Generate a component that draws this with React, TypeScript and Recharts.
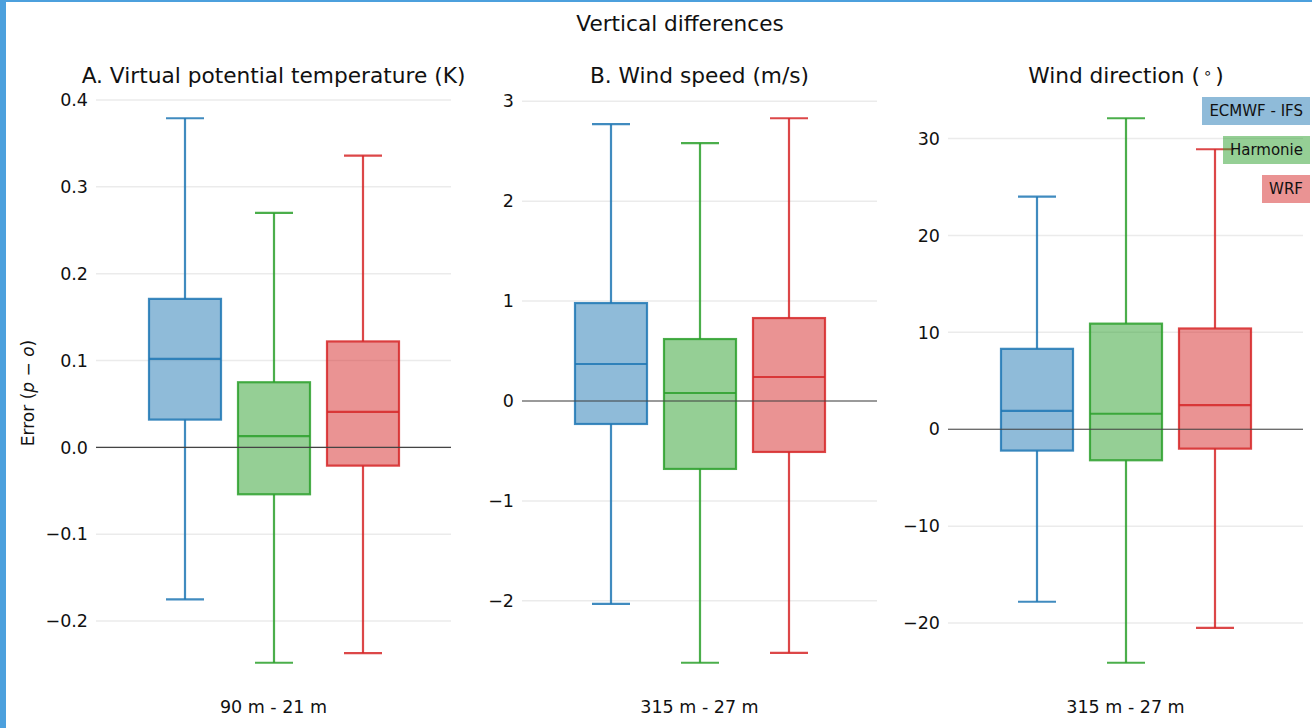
import React from "react";
import {
  BarChart,
  Bar,
  XAxis,
  YAxis,
  CartesianGrid,
  ReferenceLine,
} from "recharts";

const models = ["ECMWF - IFS", "Harmonie", "WRF"];
const modelColors = ["#1f77b4", "#2ca02c", "#d62728"];
const legendFills = [
  "rgba(31,119,180,0.5)",
  "rgba(44,160,44,0.5)",
  "rgba(214,39,40,0.5)",
];

// A. virtual potential temperature (K), 90 m - 21 m
const tempLow = [-0.175, -0.248, -0.237];
const tempQ1 = [0.032, -0.054, -0.021];
const tempMedian = [0.102, 0.013, 0.041];
const tempQ3 = [0.171, 0.075, 0.122];
const tempHigh = [0.379, 0.27, 0.336];
const tempTicks = [-0.2, -0.1, 0, 0.1, 0.2, 0.3, 0.4];

// B. wind speed (m/s), 315 m - 27 m
const speedLow = [-2.03, -2.62, -2.52];
const speedQ1 = [-0.23, -0.68, -0.51];
const speedMedian = [0.37, 0.08, 0.24];
const speedQ3 = [0.98, 0.62, 0.83];
const speedHigh = [2.77, 2.58, 2.83];
const speedTicks = [-2, -1, 0, 1, 2, 3];

// wind direction (deg), 315 m - 27 m
const dirLow = [-17.8, -24.1, -20.5];
const dirQ1 = [-2.2, -3.2, -2.0];
const dirMedian = [1.9, 1.6, 2.5];
const dirQ3 = [8.3, 10.9, 10.4];
const dirHigh = [24.0, 32.1, 28.9];
const dirTicks = [-20, -10, 0, 10, 20, 30];

const FONT = "'DejaVu Sans', sans-serif";
const TEXT = "#111";

function buildRows(low, q1, med, q3, high) {
  return models.map((m, i) => ({
    model: m,
    color: modelColors[i],
    low: low[i],
    q1: q1[i],
    median: med[i],
    q3: q3[i],
    high: high[i],
  }));
}

function BoxShape(props: any) {
  const { x, y, width, height, payload } = props;
  if (!payload) return null;
  const top = Math.min(y, y + height);
  const bottom = Math.max(y, y + height);
  const span = payload.high - payload.low;
  const py = (v: number) => top + ((payload.high - v) / span) * (bottom - top);
  const cx = x + width / 2;
  const cap = 19;
  const c = payload.color;
  const yq3 = py(payload.q3);
  const yq1 = py(payload.q1);
  const ym = py(payload.median);
  return (
    <g stroke={c} strokeWidth={2.2} strokeOpacity={0.85}>
      <line x1={cx} x2={cx} y1={top} y2={yq3} />
      <line x1={cx} x2={cx} y1={yq1} y2={bottom} />
      <line x1={cx - cap} x2={cx + cap} y1={top} y2={top} />
      <line x1={cx - cap} x2={cx + cap} y1={bottom} y2={bottom} />
      <rect
        x={x}
        y={yq3}
        width={width}
        height={yq1 - yq3}
        fill={c}
        fillOpacity={0.5}
      />
      <line x1={x} x2={x + width} y1={ym} y2={ym} />
    </g>
  );
}

function fmt(decimals: number) {
  return (v: number) => {
    const s = Math.abs(v).toFixed(decimals);
    return v < 0 ? "\u2212" + s : s;
  };
}

function Panel({ left, axisWidth, chartWidth, rows, ticks, decimals }) {
  const lo = Math.min(...rows.map((r) => r.low));
  const hi = Math.max(...rows.map((r) => r.high));
  const pad = (hi - lo) * 0.05;
  return (
    <div style={{ position: "absolute", left, top: 0 }}>
      <BarChart
        width={chartWidth}
        height={728}
        data={rows}
        margin={{ top: 91, bottom: 38, left: 0, right: chartWidth - axisWidth - 355 }}
      >
        <CartesianGrid
          vertical={false}
          syncWithTicks
          stroke="#ebebeb"
          strokeWidth={1.5}
        />
        <XAxis
          dataKey="model"
          type="category"
          hide
          padding={{ left: 44, right: 44 }}
        />
        <YAxis
          type="number"
          domain={[lo - pad, hi + pad]}
          ticks={ticks}
          tickFormatter={fmt(decimals)}
          axisLine={false}
          tickLine={false}
          width={axisWidth}
          tick={{ fontSize: 17.5, fill: TEXT, fontFamily: FONT }}
          allowDataOverflow
        />
        <ReferenceLine y={0} stroke="#444" strokeWidth={1.2} />
        <Bar
          dataKey={(d) => [d.low, d.high]}
          barSize={72}
          isAnimationActive={false}
          shape={(p) => <BoxShape {...p} />}
        />
      </BarChart>
    </div>
  );
}

const textAt = (x: number, y: number, size: number) => ({
  position: "absolute" as const,
  left: x - 300,
  top: y - size * 0.6,
  width: 600,
  textAlign: "center" as const,
  fontSize: size,
  lineHeight: `${size * 1.2}px`,
  color: TEXT,
  fontFamily: FONT,
  whiteSpace: "nowrap" as const,
});

export default function App() {
  const tempRows = buildRows(tempLow, tempQ1, tempMedian, tempQ3, tempHigh);
  const speedRows = buildRows(speedLow, speedQ1, speedMedian, speedQ3, speedHigh);
  const dirRows = buildRows(dirLow, dirQ1, dirMedian, dirQ3, dirHigh);

  return (
    <div
      style={{
        position: "absolute",
        left: 0,
        top: 0,
        width: 1312,
        height: 728,
        background: "#fff",
        overflow: "hidden",
        fontFamily: FONT,
      }}
    >
      <div style={{ position: "absolute", left: 0, top: 0, width: 6, height: 728, background: "#4ca0dd" }} />
      <div style={{ position: "absolute", left: 0, top: 0, width: 1312, height: 2, background: "#4ca0dd" }} />

      <Panel left={0} axisWidth={96} chartWidth={460} rows={tempRows} ticks={tempTicks} decimals={1} />
      <Panel left={430} axisWidth={92} chartWidth={452} rows={speedRows} ticks={speedTicks} decimals={0} />
      <Panel left={860} axisWidth={88} chartWidth={452} rows={dirRows} ticks={dirTicks} decimals={0} />

      <div style={textAt(680, 24, 21.6)}>Vertical differences</div>
      <div style={textAt(273.5, 76, 21.7)}>A. Virtual potential temperature (K)</div>
      <div style={textAt(699.5, 76, 21.7)}>B. Wind speed (m/s)</div>
      <div style={textAt(1126, 76, 21.7)}>
        Wind direction (
        <span style={{ fontSize: 15, position: "relative", top: -5, margin: "0 3px" }}>∘</span>)
      </div>

      <div style={textAt(273.5, 707, 17.5)}>90 m - 21 m</div>
      <div style={textAt(699.5, 707, 17.5)}>315 m - 27 m</div>
      <div style={textAt(1125.5, 707, 17.5)}>315 m - 27 m</div>

      <div
        style={{
          position: "absolute",
          left: 28 - 100,
          top: 393 - 11,
          width: 200,
          height: 22,
          lineHeight: "22px",
          textAlign: "center",
          fontSize: 17,
          color: TEXT,
          transform: "rotate(-90deg)",
          whiteSpace: "nowrap",
        }}
      >
        Error (<i>p</i> − <i>o</i>)
      </div>

      {models.map((m, i) => (
        <div
          key={m}
          style={{
            position: "absolute",
            right: 2,
            top: 97 + i * 39,
            height: 28,
            lineHeight: "28px",
            padding: "0 7px",
            background: legendFills[i],
            fontSize: 15,
            color: TEXT,
            whiteSpace: "nowrap",
          }}
        >
          {m}
        </div>
      ))}
    </div>
  );
}
